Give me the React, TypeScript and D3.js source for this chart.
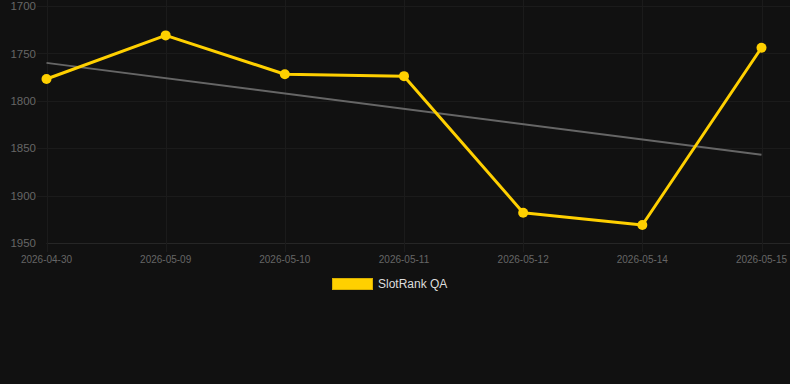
// App.tsx
import React, { useEffect, useRef } from 'react';
import * as d3 from 'd3';

const dates = ['2026-04-30', '2026-05-09', '2026-05-10', '2026-05-11', '2026-05-12', '2026-05-14', '2026-05-15'];
const ranks = [1777, 1731, 1772, 1774, 1918, 1931, 1744];
// trend line, read at first and last date
const trendDates = ['2026-04-30', '2026-05-15'];
const trendValues = [1760, 1857];
const yTicks = [1700, 1750, 1800, 1850, 1900, 1950];
const seriesName = 'SlotRank QA';

const W = 790;
const H = 384;

const App: React.FC = () => {
  const chartRef = useRef<SVGSVGElement | null>(null);

  useEffect(() => {
    document.body.style.margin = '0';
    const svg = d3.select(chartRef.current);
    svg.selectAll('*').remove();

    svg.append('rect').attr('width', W).attr('height', H).attr('fill', '#111111');

    const x = d3.scalePoint<string>().domain(dates).range([46.5, 761.5]);
    const y = d3.scaleLinear().domain([1700, 1950]).range([6, 243]);

    // horizontal grid
    svg.append('g')
      .selectAll('line')
      .data(yTicks)
      .join('line')
      .attr('x1', (d) => (d === 1950 ? 46.5 : 37))
      .attr('x2', W)
      .attr('y1', (d) => Math.round(y(d)) + 0.5)
      .attr('y2', (d) => Math.round(y(d)) + 0.5)
      .attr('stroke', (d) => (d === 1950 ? '#262626' : '#1b1b1b'))
      .attr('stroke-width', 1);

    // vertical grid
    svg.append('g')
      .selectAll('line')
      .data(dates)
      .join('line')
      .attr('x1', (d) => Math.round(x(d)!) + 0.5)
      .attr('x2', (d) => Math.round(x(d)!) + 0.5)
      .attr('y1', 0)
      .attr('y2', 252)
      .attr('stroke', '#1b1b1b')
      .attr('stroke-width', 1);

    // y labels
    svg.append('g')
      .selectAll('text')
      .data(yTicks)
      .join('text')
      .attr('x', 36)
      .attr('y', (d) => y(d))
      .attr('dy', '0.36em')
      .attr('text-anchor', 'end')
      .attr('font-family', 'Liberation Sans, Arial, sans-serif')
      .attr('font-size', 11.5)
      .attr('fill', '#666666')
      .text((d) => d);

    // x labels
    svg.append('g')
      .selectAll('text')
      .data(dates)
      .join('text')
      .attr('x', (d) => x(d)!)
      .attr('y', 262.5)
      .attr('text-anchor', 'middle')
      .attr('font-family', 'Liberation Sans, Arial, sans-serif')
      .attr('font-size', 10)
      .attr('fill', '#666666')
      .text((d) => d);

    // trend line
    const trend = d3.line<number>()
      .x((_, i) => x(trendDates[i])!)
      .y((d) => y(d));
    svg.append('path')
      .datum(trendValues)
      .attr('fill', 'none')
      .attr('stroke', '#666666')
      .attr('stroke-width', 2)
      .attr('d', trend);

    // main series
    const line = d3.line<number>()
      .x((_, i) => x(dates[i])!)
      .y((d) => y(d));
    svg.append('path')
      .datum(ranks)
      .attr('fill', 'none')
      .attr('stroke', '#FFD000')
      .attr('stroke-width', 3)
      .attr('stroke-linejoin', 'round')
      .attr('d', line);

    svg.append('g')
      .selectAll('circle')
      .data(ranks)
      .join('circle')
      .attr('cx', (_, i) => x(dates[i])!)
      .attr('cy', (d) => y(d))
      .attr('r', 5)
      .attr('fill', '#FFD000');

    // legend
    svg.append('rect')
      .attr('x', 332.5)
      .attr('y', 278.5)
      .attr('width', 40)
      .attr('height', 11)
      .attr('fill', '#FFD000')
      .attr('stroke', '#d9b000')
      .attr('stroke-width', 1);
    svg.append('text')
      .attr('x', 378)
      .attr('y', 284)
      .attr('dy', '0.36em')
      .attr('font-family', 'Liberation Sans, Arial, sans-serif')
      .attr('font-size', 12)
      .attr('fill', '#dddddd')
      .text(seriesName);
  }, []);

  return (
    <svg
      ref={chartRef}
      width={W}
      height={H}
      style={{ position: 'absolute', left: 0, top: 0, display: 'block' }}
    ></svg>
  );
};

export default App;
